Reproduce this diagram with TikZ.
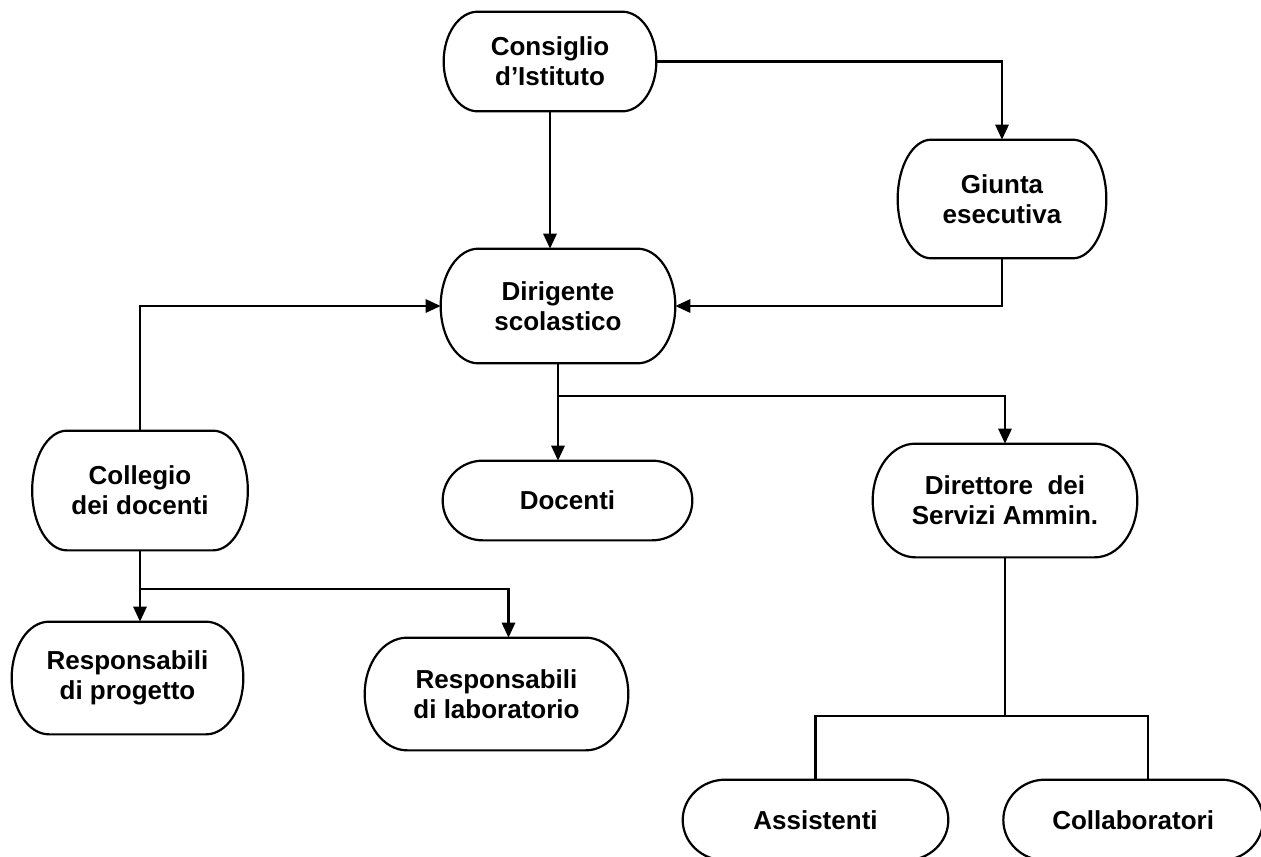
\documentclass[tikz,border=0pt]{standalone}
\usepackage{fontspec}
\setmainfont{Liberation Sans}
\usepackage{tikz}
\usetikzlibrary{arrows.meta}
\usetikzlibrary{positioning, calc}
\tikzset{
  box/.style={align=center, inner sep=2pt, font=\fontsize{14.8}{17}\selectfont\bfseries},
  box line/.style={line width=1.25pt, black},
  connect/.style={line width=1.25pt, black},
  connect arrow/.style={-{Triangle[length=8.5pt,width=7.5pt]}, line width=1.25pt, black}
}
% flowchart terminator outline round a named node
\newcommand\terminator[1]{%
  \draw[box line] let \p1=(#1.north west), \p2=(#1.south east),
    \n1={0.161*(\x2-\x1)}, \n2={0.5*(\y1-\y2)} in
    (\x1+\n1,\y1) -- (\x2-\n1,\y1)
    arc[start angle=90, end angle=-90, x radius=\n1, y radius=\n2]
    -- (\x1+\n1,\y2)
    arc[start angle=270, end angle=90, x radius=\n1, y radius=\n2] -- cycle;}

\begin{document}
\begin{tikzpicture}[x=0.02cm, y=-0.02cm]

  \fill[white] (0,0) rectangle (1261,856);
  \useasboundingbox (0,0) rectangle (1261,856);
  \clip (0,0) rectangle (1261,856);

  \node[box, minimum width=4.24cm, minimum height=1.98cm] (cons) at (550,61.5) {Consiglio\\d’Istituto};
  \node[box, minimum width=4.16cm, minimum height=2.36cm] (giunta) at (1002,199) {Giunta\\esecutiva};
  \node[box, minimum width=4.68cm, minimum height=2.28cm] (dir) at (558,306) {Dirigente\\scolastico};

  \node[box, minimum width=4.3cm, minimum height=2.38cm] (colleg) at (140,490.5) {Collegio\\dei docenti};
  \node[box, minimum width=4.98cm, minimum height=1.58cm] (doc) at (567.5,500.5) {Docenti};
  \node[box, minimum width=5.28cm, minimum height=2.26cm] (dsga) at (1005,500.5) {Direttore\ \ dei\\Servizi Ammin.};

  \node[box, minimum width=4.62cm, minimum height=2.24cm] (rprog) at (127.5,678) {Responsabili\\di progetto};
  \node[box, minimum width=5.26cm, minimum height=2.24cm] (rlab) at (496.5,694) {Responsabili\\di laboratorio};

  \node[box, minimum width=5.3cm, minimum height=1.6cm] (assist) at (815.5,820) {Assistenti};
  \node[box, minimum width=5.18cm, minimum height=1.6cm, right=1.1cm of assist] (collab) {Collaboratori};

  \foreach \nd in {cons, giunta, dir, colleg, doc, dsga, rprog, rlab, assist, collab}
    \terminator{\nd};

  % upper part
  \draw[connect arrow] (cons.east) -| (giunta.north);
  \draw[connect arrow] (cons.south) -- (cons.south |- dir.north);
  \draw[connect arrow] (giunta.south) |- (dir.east);
  \draw[connect arrow] (colleg.north) |- (dir.west);

  % dirigente
  \coordinate (dsplit) at (dir.south |- 0,396);
  \draw[connect arrow] (dir.south) -- (dir.south |- doc.north);
  \draw[connect arrow] (dsplit) -| (dsga.north);

  % collegio
  \coordinate (csplit) at (colleg.south |- 0,589);
  \draw[connect arrow] (colleg.south) -- (colleg.south |- rprog.north);
  \draw[connect arrow] (csplit) -| ($(rlab.north)+(12,0)$);

  % direttore
  \coordinate (asplit) at (dsga.south |- 0,716);
  \draw[connect] (dsga.south) -- (asplit);
  \draw[connect] (assist.north) |- (asplit) -| ($(collab.north)+(15,0)$);

\end{tikzpicture}
\end{document}
